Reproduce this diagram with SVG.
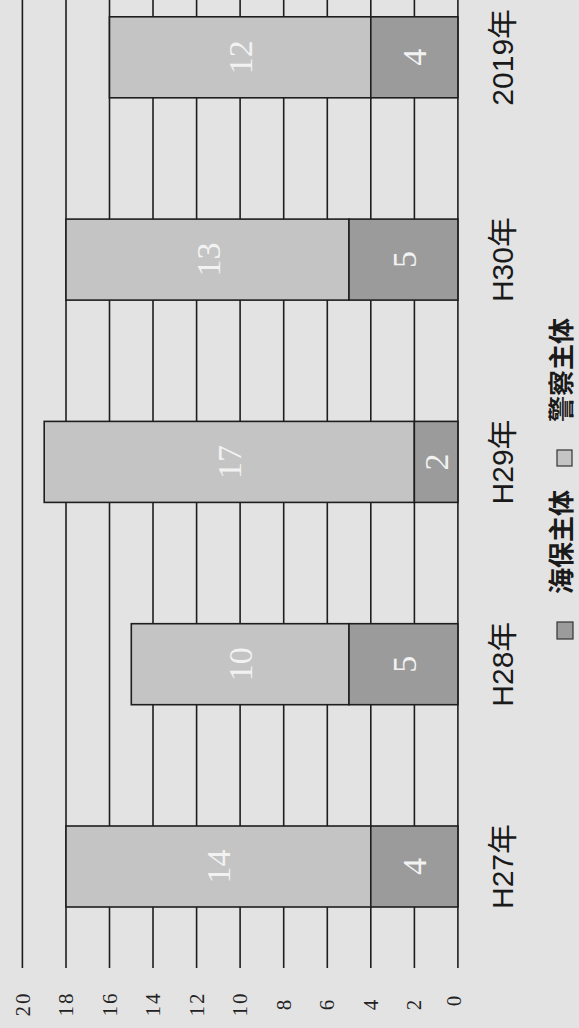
<svg xmlns="http://www.w3.org/2000/svg" width="579" height="1028" viewBox="0 0 579 1028">
<style>
.grid{stroke:#1e1e1e;stroke-width:1.6;fill:none}
.light{fill:#c4c4c4;stroke:#1e1e1e;stroke-width:1.6}
.dark{fill:#9b9b9b;stroke:#1e1e1e;stroke-width:1.6}
.val{font-family:"Liberation Serif",serif;font-size:34px;fill:#f2f2f2;text-anchor:middle}
.ax{font-family:"Liberation Serif",serif;font-size:21px;letter-spacing:2px;fill:#222;text-anchor:middle}
.cat{font-family:"Liberation Sans","Noto Sans CJK JP",sans-serif;font-size:30px;fill:#1a1a1a;text-anchor:middle}
.leg{font-family:"Noto Sans CJK JP","Noto Sans CJK SC",sans-serif;font-size:26px;font-weight:bold;fill:#1a1a1a;text-anchor:middle}
</style>
<rect x="0" y="0" width="579" height="1028" fill="#e3e3e3"/>
<g id="gridlines">
<line class="grid" x1="22.4" y1="0" x2="22.4" y2="968"/>
<line class="grid" x1="66.0" y1="0" x2="66.0" y2="968"/>
<line class="grid" x1="109.5" y1="0" x2="109.5" y2="968"/>
<line class="grid" x1="153.0" y1="0" x2="153.0" y2="968"/>
<line class="grid" x1="196.6" y1="0" x2="196.6" y2="968"/>
<line class="grid" x1="240.1" y1="0" x2="240.1" y2="968"/>
<line class="grid" x1="283.7" y1="0" x2="283.7" y2="968"/>
<line class="grid" x1="327.3" y1="0" x2="327.3" y2="968"/>
<line class="grid" x1="370.8" y1="0" x2="370.8" y2="968"/>
<line class="grid" x1="414.4" y1="0" x2="414.4" y2="968"/>
<line class="grid" x1="457.9" y1="0" x2="457.9" y2="968"/>
</g>
<g id="axis-labels">
<text class="ax" transform="translate(29.5,1004) rotate(-90)">20</text>
<text class="ax" transform="translate(73,1004) rotate(-90)">18</text>
<text class="ax" transform="translate(116.5,1004) rotate(-90)">16</text>
<text class="ax" transform="translate(160,1004) rotate(-90)">14</text>
<text class="ax" transform="translate(203.5,1004) rotate(-90)">12</text>
<text class="ax" transform="translate(247,1004) rotate(-90)">10</text>
<text class="ax" transform="translate(290.5,1004) rotate(-90)">8</text>
<text class="ax" transform="translate(334,1004) rotate(-90)">6</text>
<text class="ax" transform="translate(377.5,1004) rotate(-90)">4</text>
<text class="ax" transform="translate(421,1004) rotate(-90)">2</text>
<text class="ax" transform="translate(461,1000) rotate(-90)">0</text>
</g>
<g id="bar-2019">
<rect class="light" x="109.5" y="16.8" width="261.3" height="81"/>
<rect class="dark" x="370.8" y="16.8" width="87.1" height="81"/>
<text class="val" transform="translate(252,57.3) rotate(-90)">12</text>
<text class="val" transform="translate(426.4,57.3) rotate(-90)">4</text>
<text class="cat" transform="translate(513,57.3) rotate(-90)">2019年</text>
</g>
<g id="bar-H30">
<rect class="light" x="66.0" y="219.1" width="283" height="81"/>
<rect class="dark" x="349.0" y="219.1" width="108.9" height="81"/>
<text class="val" transform="translate(219.5,259.6) rotate(-90)">13</text>
<text class="val" transform="translate(415.5,259.6) rotate(-90)">5</text>
<text class="cat" transform="translate(513,259.6) rotate(-90)">H30年</text>
</g>
<g id="bar-H29">
<rect class="light" x="44.2" y="421.4" width="370.15" height="81"/>
<rect class="dark" x="414.35" y="421.4" width="43.55" height="81"/>
<text class="val" transform="translate(241.3,461.9) rotate(-90)">17</text>
<text class="val" transform="translate(448.1,461.9) rotate(-90)">2</text>
<text class="cat" transform="translate(513,461.9) rotate(-90)">H29年</text>
</g>
<g id="bar-H28">
<rect class="light" x="131.3" y="623.7" width="217.7" height="81"/>
<rect class="dark" x="349.0" y="623.7" width="108.9" height="81"/>
<text class="val" transform="translate(252.2,664.2) rotate(-90)">10</text>
<text class="val" transform="translate(415.5,664.2) rotate(-90)">5</text>
<text class="cat" transform="translate(513,664.2) rotate(-90)">H28年</text>
</g>
<g id="bar-H27">
<rect class="light" x="66.0" y="826" width="304.8" height="81"/>
<rect class="dark" x="370.8" y="826" width="87.1" height="81"/>
<text class="val" transform="translate(230.4,866.5) rotate(-90)">14</text>
<text class="val" transform="translate(426.4,866.5) rotate(-90)">4</text>
<text class="cat" transform="translate(513,866.5) rotate(-90)">H27年</text>
</g>
<g id="legend">
<rect x="557" y="622" width="16" height="17" fill="#9b9b9b" stroke="#333" stroke-width="1.2"/>
<text class="leg" transform="translate(571,542) rotate(-90)">海保主体</text>
<rect x="557" y="450" width="15" height="16" fill="#c4c4c4" stroke="#333" stroke-width="1.2"/>
<text class="leg" transform="translate(571,370) rotate(-90)">警察主体</text>
</g>
</svg>
